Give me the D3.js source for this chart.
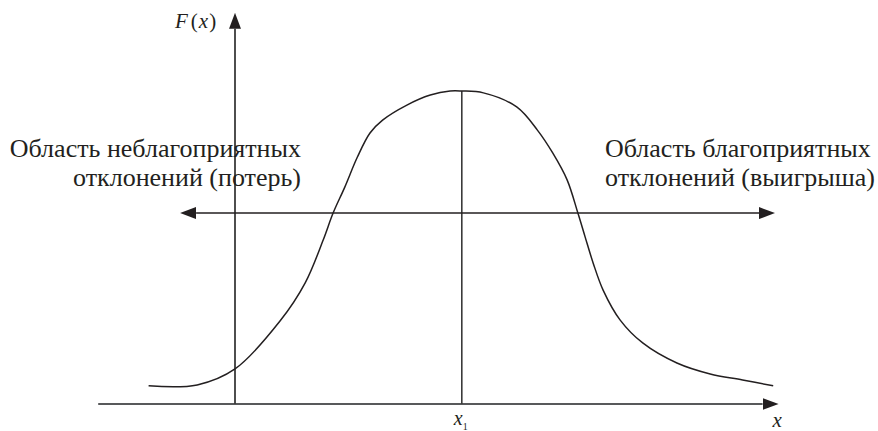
<!DOCTYPE html>
<html>
<head>
<meta charset="utf-8">
<script src="https://cdn.jsdelivr.net/npm/d3@7"></script>
<style>
  html, body { margin: 0; padding: 0; background: #fff; }
  svg { display: block; }
  text { font-family: "Liberation Serif", "Times New Roman", serif; fill: #231f20; }
</style>
</head>
<body>
<svg id="chart" width="878" height="431"></svg>
<script>
// ---- Data ----
// curve F(x): x in abstract units (0 = vertical axis), F normalised to peak = 1
const curveX = [-0.96, -0.42, 0.00, 0.50, 0.78, 0.98, 1.09, 1.22, 1.36, 1.50, 1.64, 1.91, 2.17, 2.39, 2.52,
                2.76, 3.13, 3.36, 3.53, 3.69, 3.81, 3.89, 3.98, 4.09, 4.28, 4.53, 4.91, 5.28, 5.64, 5.98];
const curveF = [0.058, 0.061, 0.112, 0.265, 0.387, 0.524, 0.610, 0.693, 0.789, 0.866, 0.907, 0.955, 0.987, 1.000, 1.000,
                0.994, 0.949, 0.875, 0.802, 0.716, 0.610, 0.534, 0.450, 0.364, 0.268, 0.195, 0.131, 0.096, 0.077, 0.058];
const x1Value = 2.52;           // position of x1 (peak)
const xAxisExtent = [-1.52, 6.04];
const yAxisTop = 1.25;
const arrowLevel = 0.61;         // level of the double-headed horizontal arrow
const arrowExtent = [-0.61, 6.0];
const leftLabel = ["Область неблагоприятных", "отклонений (потерь)"];
const rightLabel = ["Область благоприятных", "отклонений (выигрыша)"];

// ---- Scales ----
const x = d3.scaleLinear().domain([0, 6]).range([235, 775]);
const y = d3.scaleLinear().domain([0, 1]).range([404, 91]);

const svg = d3.select("#chart");

// arrowheads
const defs = svg.append("defs");
function marker(id, color) {
  defs.append("marker")
    .attr("id", id)
    .attr("viewBox", "0 0 16 12")
    .attr("refX", 0).attr("refY", 6)
    .attr("markerWidth", 16).attr("markerHeight", 12)
    .attr("markerUnits", "userSpaceOnUse")
    .attr("orient", "auto-start-reverse")
    .append("path").attr("d", "M0,0 L16,6 L0,12 Z").attr("fill", color);
}
marker("axArrow", "#231f20");
marker("hArrow", "#231f20");

// x axis
svg.append("line")
  .attr("x1", x(xAxisExtent[0])).attr("x2", x(xAxisExtent[1]) - 16)
  .attr("y1", y(0)).attr("y2", y(0))
  .attr("stroke", "#58595b").attr("stroke-width", 2.2)
  .attr("marker-end", "url(#axArrow)");

// y axis
svg.append("line")
  .attr("x1", x(0)).attr("x2", x(0))
  .attr("y1", y(0)).attr("y2", y(yAxisTop) + 16)
  .attr("stroke", "#3a3a3a").attr("stroke-width", 1.8)
  .attr("marker-end", "url(#axArrow)");

// vertical line at x1
svg.append("line")
  .attr("x1", x(x1Value)).attr("x2", x(x1Value))
  .attr("y1", y(0)).attr("y2", y(1))
  .attr("stroke", "#3a3a3a").attr("stroke-width", 1.6);

// horizontal double arrow
svg.append("line")
  .attr("x1", x(arrowExtent[0]) + 16).attr("x2", x(arrowExtent[1]) - 16)
  .attr("y1", y(arrowLevel)).attr("y2", y(arrowLevel))
  .attr("stroke", "#231f20").attr("stroke-width", 1.6)
  .attr("marker-start", "url(#hArrow)")
  .attr("marker-end", "url(#hArrow)");

// curve
const pts = curveX.map((v, i) => [v, curveF[i]]);
svg.append("path")
  .datum(pts)
  .attr("d", d3.line().x(d => x(d[0])).y(d => y(d[1])).curve(d3.curveCatmullRom.alpha(0.5)))
  .attr("fill", "none").attr("stroke", "#231f20").attr("stroke-width", 1.5);

// labels
const fl = svg.append("text").attr("x", 175).attr("y", 28).attr("font-size", 21);
fl.append("tspan").attr("font-style", "italic").text("F");
fl.append("tspan").attr("dx", 3).text("(");
fl.append("tspan").attr("font-style", "italic").attr("dx", 1).text("x");
fl.append("tspan").attr("dx", 1).text(")");

svg.append("text").attr("x", x(5.98) + 4).attr("y", 427).attr("text-anchor", "middle")
  .attr("font-size", 21).attr("font-style", "italic").text("x");

const x1l = svg.append("text").attr("x", x(x1Value) - 1).attr("y", 425).attr("text-anchor", "middle")
  .attr("font-size", 20);
x1l.append("tspan").attr("font-style", "italic").text("x");
x1l.append("tspan").attr("font-size", 10).attr("dy", 5).text("1");

const ll = svg.append("text").attr("text-anchor", "end").attr("font-size", 26);
leftLabel.forEach((t, i) => ll.append("tspan").attr("x", 301).attr("y", 157 + i * 28.5).text(t));
const rl = svg.append("text").attr("text-anchor", "start").attr("font-size", 26);
rightLabel.forEach((t, i) => rl.append("tspan").attr("x", 605).attr("y", 157 + i * 28.5).text(t));
</script>
</body>
</html>
